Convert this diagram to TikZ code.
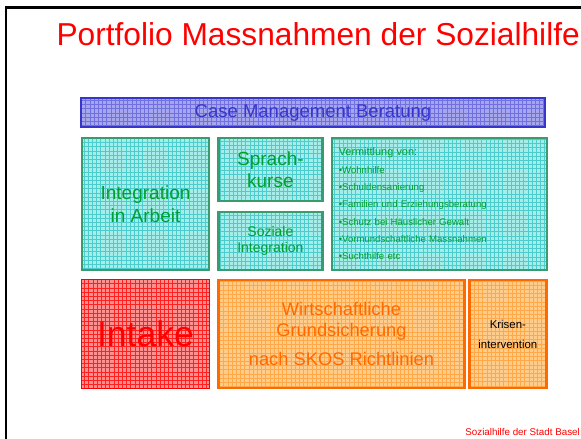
\documentclass[tikz,border=0pt]{standalone}
\usepackage{fontspec}
\setmainfont{Liberation Sans}
\usetikzlibrary{positioning}

\definecolor{titlered}{HTML}{FF0000}
\definecolor{casefill}{HTML}{A6A6EC}
\definecolor{casegrid}{HTML}{7070E0}
\definecolor{caseline}{HTML}{3636CC}
\definecolor{tealfill}{HTML}{A6ECE8}
\definecolor{tealgrid}{HTML}{4CCCCC}
\definecolor{tealline}{HTML}{3A9A70}
\definecolor{tealtext}{HTML}{00A030}
\definecolor{redfill}{HTML}{FF9090}
\definecolor{redgrid}{HTML}{FF2020}
\definecolor{orangefill}{HTML}{FFCC8C}
\definecolor{orangegrid}{HTML}{FFA848}
\definecolor{orangeline}{HTML}{FF6A00}

\begin{document}
\begin{tikzpicture}
	[x=1pt,y=1pt,
	block/.style={draw,line width=2.4pt,inner sep=2pt,align=center,
		path picture={\draw[#1,line width=0.45pt,step=4.2pt] (path picture bounding box.south west) grid (path picture bounding box.north east);}},
	casebox/.style={block=casegrid,fill=casefill,draw=caseline,text=caseline},
	tealbox/.style={block=tealgrid,fill=tealfill,draw=tealline,text=tealtext},
	intakebox/.style={block=redgrid,fill=redfill,draw=titlered,line width=1.5pt,text=titlered},
	orangebox/.style={block=orangegrid,fill=orangefill,draw=orangeline,text=orangeline}]
	\useasboundingbox (0,0) rectangle (581,439);
	\draw[line width=2.5pt] (6,-5) |- (590,431.5);

	\node [text=titlered,font=\fontsize{31.7}{36}\selectfont,anchor=base west] (title) at (53,393.5) {Portfolio Massnahmen der Sozialhilfe};

	\node [casebox,minimum width=464pt,minimum height=29pt,font=\fontsize{18.5}{22}\selectfont] (case) at (313,326.5) {Case Management Beratung};

	\node [tealbox,minimum width=127pt,minimum height=132pt,font=\fontsize{19}{23}\selectfont] (arbeit) at (145.5,235) {Integration\\in Arbeit};
	\node [tealbox,minimum width=104pt,minimum height=63pt,font=\fontsize{19}{22}\selectfont] (sprach) [right=7pt of arbeit.north east,anchor=north west] {Sprach-\\kurse};
	\node [tealbox,minimum width=104pt,minimum height=58pt,font=\fontsize{14}{16}\selectfont] (sozial) [right=7pt of arbeit.south east,anchor=south west] {Soziale\\Integration};
	\node [tealbox,minimum width=215pt,minimum height=132pt,text width=201pt,inner xsep=7pt,align=left,font=\fontsize{9.6}{17.3}\selectfont] (vermittlung) [right=7pt of sprach.north east,anchor=north west]
		{{\fontsize{10.9}{17.3}\selectfont Vermittlung von:}\\
		•Wohnhilfe\\
		•Schuldensanierung\\
		•Familien und Erziehungsberatung\\
		•Schutz bei Häuslicher Gewalt\\
		•Vormundschaftliche Massnahmen\\
		•Suchthilfe etc};

	\node [intakebox,minimum width=128pt,minimum height=109pt,font=\fontsize{35.6}{40}\selectfont] (intake) at (145.5,105) {Intake};
	\node [orangebox,minimum width=246pt,minimum height=108pt,font=\fontsize{18.3}{21}\selectfont] (wirtschaft) [right=7pt of intake.north east,anchor=north west] {Wirtschaftliche\\Grundsicherung\\[8pt]nach SKOS Richtlinien};
	\node [orangebox,minimum width=77pt,minimum height=108pt,text=black,font=\fontsize{11.4}{20}\selectfont] (krisen) [right=2.5pt of wirtschaft.north east,anchor=north west] {Krisen-\\intervention};

	\node [text=titlered,font=\fontsize{9.8}{12}\selectfont,anchor=base east,inner sep=0pt] (footer) at (580,3) {Sozialhilfe der Stadt Basel};
\end{tikzpicture}
\end{document}
